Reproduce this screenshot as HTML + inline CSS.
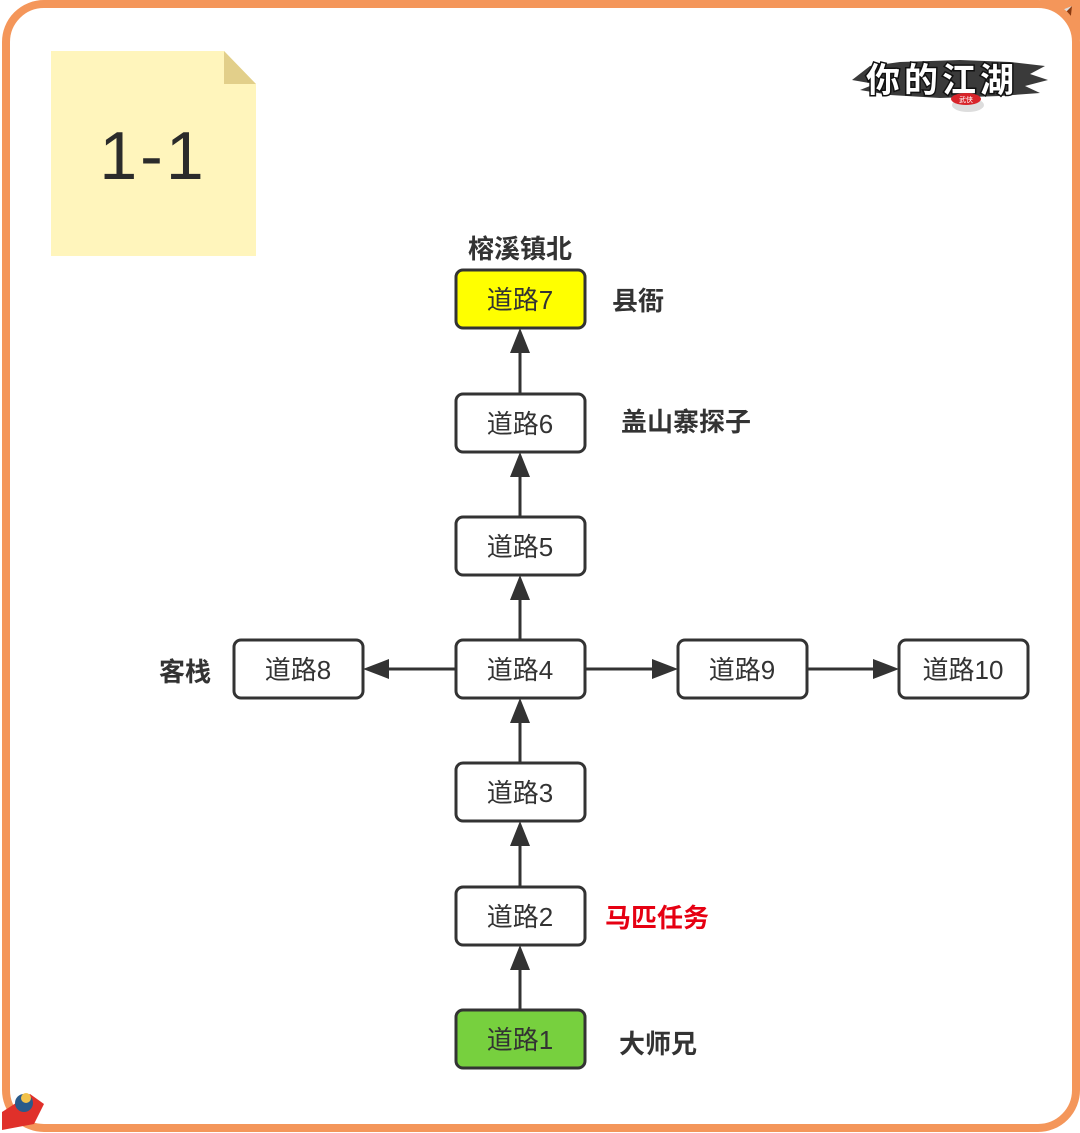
<!DOCTYPE html>
<html><head><meta charset="utf-8">
<style>
html,body{margin:0;padding:0;background:#fff;}
body{width:1080px;height:1133px;overflow:hidden;}
svg{display:block;}
.n{font-family:"Liberation Sans","Noto Sans CJK SC",sans-serif;font-size:26px;fill:#333;text-anchor:middle;}
.l{font-family:"Liberation Sans","Noto Sans CJK SC",sans-serif;font-size:26px;font-weight:bold;fill:#333;}
</style></head>
<body>
<svg width="1080" height="1133" viewBox="0 0 1080 1133" xmlns="http://www.w3.org/2000/svg">
<!-- top-right corner decoration -->
<path d="M1040 0 L1080 0 L1080 40 Z" fill="#F4965A"/>
<path d="M1052 14 L1072 6 L1064 22 Z" fill="#ddd"/>
<path d="M1066 12 L1072 6 L1070 24 Z" fill="#8a3a10"/>
<!-- frame -->
<rect x="6" y="4" width="1070" height="1124" rx="38" ry="38" fill="#fff" stroke="#F4965A" stroke-width="8"/>
<!-- bottom-left icon -->
<path d="M2 1112 L30 1094 L44 1104 L34 1124 L2 1130 Z" fill="#e0302a"/>
<circle cx="24" cy="1103" r="9" fill="#2a5a8a"/>
<circle cx="26" cy="1098" r="5" fill="#f2c24a"/>
<!-- sticky note -->
<path d="M51 51 L224 51 L256 84 L256 256 L51 256 Z" fill="#FFF5BC"/>
<path d="M224 51 L256 84 L224 84 Z" fill="#E2CF8A"/>
<text x="153" y="179" font-family="Liberation Sans, sans-serif" font-size="68" fill="#2b2b2b" text-anchor="middle" letter-spacing="3">1-1</text>
<!-- logo -->
<path d="M852 80 L870 66 L900 62 L960 60 L1010 62 L1045 66 L1030 74 L1048 80 L1025 86 L1040 93 L1000 96 L940 98 L890 95 L860 90 L875 84 Z" fill="#3a3a3a"/>
<text x="942" y="92" font-family="WenQuanYi Zen Hei, Noto Sans CJK SC, sans-serif" font-size="34" font-weight="bold" fill="#fff" stroke="#111" stroke-width="3" paint-order="stroke" text-anchor="middle" letter-spacing="4">你的江湖</text>
<ellipse cx="968" cy="105" rx="16" ry="7" fill="#ddd"/>
<ellipse cx="966" cy="99" rx="15" ry="6" fill="#d8242a"/>
<text x="966" y="102" font-family="Noto Sans CJK SC, sans-serif" font-size="7" fill="#fff" text-anchor="middle">武侠</text>

<!-- connectors -->
<g stroke="#333" stroke-width="3" fill="none">
<line x1="520" y1="1010" x2="520" y2="965"/>
<line x1="520" y1="887" x2="520" y2="842"/>
<line x1="520" y1="763" x2="520" y2="718"/>
<line x1="520" y1="640" x2="520" y2="595"/>
<line x1="520" y1="517" x2="520" y2="472"/>
<line x1="520" y1="394" x2="520" y2="350"/>
<line x1="456" y1="669" x2="385" y2="669"/>
<line x1="585" y1="669" x2="656" y2="669"/>
<line x1="807" y1="669" x2="877" y2="669"/>
</g>
<g fill="#333">
<path d="M520 945 L510 970 L530 970 Z"/>
<path d="M520 821 L510 846 L530 846 Z"/>
<path d="M520 698 L510 723 L530 723 Z"/>
<path d="M520 575 L510 600 L530 600 Z"/>
<path d="M520 452 L510 477 L530 477 Z"/>
<path d="M520 328 L510 353 L530 353 Z"/>
<path d="M363 669 L389 659 L389 679 Z"/>
<path d="M678 669 L652 659 L652 679 Z"/>
<path d="M899 669 L873 659 L873 679 Z"/>
</g>

<!-- nodes -->
<g stroke="#333" stroke-width="3">
<rect x="456" y="270" width="129" height="58" rx="7" fill="#FFFF00"/>
<rect x="456" y="394" width="129" height="58" rx="7" fill="#fff"/>
<rect x="456" y="517" width="129" height="58" rx="7" fill="#fff"/>
<rect x="456" y="640" width="129" height="58" rx="7" fill="#fff"/>
<rect x="456" y="763" width="129" height="58" rx="7" fill="#fff"/>
<rect x="456" y="887" width="129" height="58" rx="7" fill="#fff"/>
<rect x="456" y="1010" width="129" height="58" rx="7" fill="#77D03E"/>
<rect x="234" y="640" width="129" height="58" rx="7" fill="#fff"/>
<rect x="678" y="640" width="129" height="58" rx="7" fill="#fff"/>
<rect x="899" y="640" width="129" height="58" rx="7" fill="#fff"/>
</g>
<text class="n" x="520" y="309">道路7</text>
<text class="n" x="520" y="433">道路6</text>
<text class="n" x="520" y="556">道路5</text>
<text class="n" x="520" y="679">道路4</text>
<text class="n" x="520" y="802">道路3</text>
<text class="n" x="520" y="926">道路2</text>
<text class="n" x="520" y="1049">道路1</text>
<text class="n" x="298" y="679">道路8</text>
<text class="n" x="742" y="679">道路9</text>
<text class="n" x="963" y="679">道路10</text>

<!-- labels -->
<text class="l" x="520" y="258" text-anchor="middle">榕溪镇北</text>
<text class="l" x="612" y="310">县衙</text>
<text class="l" x="621" y="431">盖山寨探子</text>
<text class="l" x="159" y="681">客栈</text>
<text class="l" x="605" y="927" style="fill:#E60012">马匹任务</text>
<text class="l" x="619" y="1053">大师兄</text>
</svg>
</body></html>
